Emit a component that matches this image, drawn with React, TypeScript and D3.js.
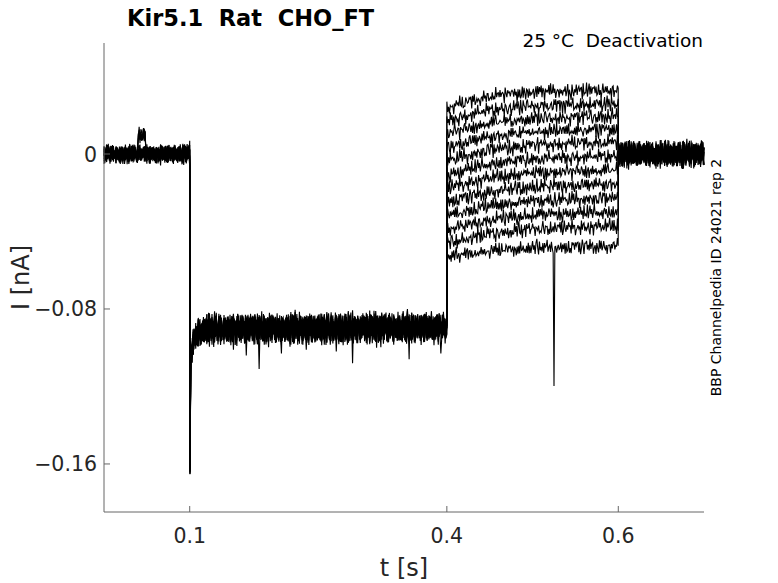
import React, { useMemo } from 'react';
import * as d3 from 'd3';

// ---- chart data ----
const xDomain = [0, 0.7];
const yDomain = [-0.1848, 0.0573];
const xTicks = [0.1, 0.4, 0.6];
const yTicks = [0, -0.08, -0.16];

const sweepCount = 12;

// holding level before the prepulse, per sweep (nA)
const holdOffsets = [0.0006, -0.0004, 0.0002, -0.0008, 0.0005, -0.0002, 0.0009, -0.0006, 0.0001, -0.0003, 0.0004, -0.0007];

// prepulse: capacitive spike then inward current
const prepulseTimes = [0.1, 0.1003, 0.1012, 0.104, 0.11, 0.12, 0.4];
const prepulseLevels = [0, -0.163, -0.106, -0.097, -0.092, -0.0905, -0.0895];
const prepulseOffsets = [0.0012, -0.0008, 0.0004, -0.0014, 0.0009, -0.0003, 0.0015, -0.0011, 0.0002, -0.0006, 0.0007, -0.0016];

// test steps, level per sweep at each of testTimes
const testTimes = [0.4, 0.45, 0.5, 0.6];
const testLevels = [
    [0.0237, 0.0299, 0.032, 0.033],
    [0.017, 0.0227, 0.0248, 0.0258],
    [0.0103, 0.016, 0.0181, 0.0196],
    [0.0036, 0.0088, 0.0114, 0.0129],
    [-0.0036, 0.0021, 0.0046, 0.0062],
    [-0.0108, -0.0052, -0.0026, -0.001],
    [-0.0175, -0.0124, -0.0098, -0.0083],
    [-0.0248, -0.0196, -0.017, -0.0155],
    [-0.032, -0.0268, -0.0243, -0.0227],
    [-0.0392, -0.0341, -0.0315, -0.0299],
    [-0.0459, -0.0413, -0.0387, -0.0372],
    [-0.0532, -0.0501, -0.0485, -0.0475],
];

// back to holding after the test step
const tailOffsets = [-0.0005, 0.0007, -0.0002, 0.0004, -0.0009, 0.0003, -0.0006, 0.0008, -0.0001, 0.0005, -0.0004, 0.0002];

// noise half-width per protocol segment
const segmentStarts = [0, 0.1, 0.4, 0.6];
const segmentNoise = [0.0052, 0.0085, 0.005, 0.0075];

// hand-read recording noise pattern
const noiseA = [0.62, -0.41, 0.15, -0.88, 0.37, 0.94, -0.23, -0.67, 0.51, -0.05, 0.79, -0.95, 0.28, -0.36, 0.7, -0.58, 0.09, 0.86, -0.74, 0.43, -0.19, -0.91, 0.66, 0.02, -0.47, 0.83, -0.3, 0.55, -0.81, 0.18, 0.97, -0.62, -0.12, 0.4, -0.99, 0.73, -0.26, 0.31, -0.69, 0.89, -0.44, 0.06, 0.59, -0.85, 0.24, -0.53, 0.77, -0.16, 0.48, -0.76, 0.92, -0.33, 0.11];
const noiseB = [-0.72, 0.35, 0.88, -0.14, -0.57, 0.63, -0.97, 0.21, 0.46, -0.38, 0.81, -0.09, -0.84, 0.57, 0.13, -0.66, 0.99, -0.27, 0.32, -0.52, 0.74, -0.9, 0.04, 0.68, -0.45, -0.18, 0.91, -0.63, 0.26, -0.79, 0.5, 0.08, -0.34, 0.85, -0.7, 0.19, -0.96, 0.42, 0.61, -0.22, -0.55, 0.77, -0.11, 0.93, -0.48, 0.3, -0.83];

// a few sweeps have a short outward blip before the prepulse
const bumpSweeps = [2, 7, 10];
const bumpStart = 0.0395;
const bumpEnd = 0.049;
const bumpLevel = 0.0098;

// single-sample artefacts: sweep, time, level
const glitches = [
    { sweep: 2, t: 0.0505, level: -0.0075 },
    { sweep: 4, t: 0.151, level: -0.101 },
    { sweep: 5, t: 0.166, level: -0.104 },
    { sweep: 8, t: 0.181, level: -0.111 },
    { sweep: 1, t: 0.207, level: -0.103 },
    { sweep: 7, t: 0.236, level: -0.101 },
    { sweep: 10, t: 0.271, level: -0.102 },
    { sweep: 3, t: 0.29, level: -0.108 },
    { sweep: 0, t: 0.318, level: -0.1 },
    { sweep: 6, t: 0.356, level: -0.106 },
    { sweep: 9, t: 0.393, level: -0.103 },
    { sweep: 11, t: 0.525, level: -0.1197 },
];

const W = 778;
const H = 583;
const margin = { left: 104, right: 74, top: 43, bottom: 71 };
const font = 'DejaVu Sans, sans-serif';
const textColor = '#262626';

function buildSweep(s: number): [number, number][] {
    const prepulse = d3.scaleLinear().domain(prepulseTimes).range(prepulseLevels);
    const test = d3.scaleLinear().domain(testTimes).range(testLevels[s]);
    const times = d3.range(0, 0.7005, 0.001).concat(prepulseTimes.slice(1, -1), [0.3999, 0.5999]);
    times.sort((a, b) => a - b);

    return times.map((t, i) => {
        const glitch = glitches.find((g) => g.sweep === s && Math.abs(g.t - t) < 0.0005);
        if (glitch) return [t, glitch.level];

        let base: number;
        if (t < 0.1) {
            base = bumpSweeps.includes(s) && t > bumpStart && t < bumpEnd ? bumpLevel : holdOffsets[s];
        } else if (t < 0.4) {
            base = prepulse(t) + (t > 0.11 ? prepulseOffsets[s] : 0);
        } else if (t < 0.6) {
            base = test(t);
        } else {
            base = tailOffsets[s];
        }
        const seg = d3.bisectRight(segmentStarts, t) - 1;
        const n = noiseA[(i + s * 7) % noiseA.length] * 0.6 + noiseB[(i * 2 + s * 5) % noiseB.length] * 0.4;
        return [t, base + n * segmentNoise[seg]];
    });
}

const App: React.FC = () => {
    const x = d3.scaleLinear().domain(xDomain).range([margin.left, W - margin.right]);
    const y = d3.scaleLinear().domain(yDomain).range([H - margin.bottom, margin.top]);

    const sweeps = useMemo(() => d3.range(sweepCount).map(buildSweep), []);
    const line = d3
        .line<[number, number]>()
        .x((d) => x(d[0]))
        .y((d) => y(d[1]));

    const fmt = d3.format('');
    const bottom = H - margin.bottom;
    const midY = (margin.top + bottom) / 2;

    return (
        <svg
            width={W}
            height={H}
            style={{ position: 'absolute', left: 0, top: 0, background: '#fff' }}
            fontFamily={font}
        >
            <rect width={W} height={H} fill="#fff" />
            <g>
                {sweeps.map((pts, s) => (
                    <path key={s} d={line(pts) || ''} fill="none" stroke="#000" strokeWidth={1.1} />
                ))}
            </g>

            {/* axes */}
            <line x1={margin.left} x2={margin.left} y1={margin.top} y2={bottom} stroke="#666" />
            <line x1={margin.left} x2={W - margin.right} y1={bottom} y2={bottom} stroke="#666" />
            {xTicks.map((t) => (
                <g key={t}>
                    <line x1={x(t)} x2={x(t)} y1={bottom} y2={bottom - 6} stroke="#666" />
                    <text x={x(t)} y={543} textAnchor="middle" fontSize={20.5} fill={textColor}>
                        {fmt(t)}
                    </text>
                </g>
            ))}
            {yTicks.map((t) => (
                <g key={t}>
                    <line x1={margin.left} x2={margin.left + 6} y1={y(t)} y2={y(t)} stroke="#666" />
                    <text x={97} y={y(t) + 7.5} textAnchor="end" fontSize={20.5} fill={textColor}>
                        {fmt(t)}
                    </text>
                </g>
            ))}

            {/* labels */}
            <text x={404} y={576} textAnchor="middle" fontSize={24} fill={textColor}>
                t [s]
            </text>
            <text
                transform={`translate(29, ${midY}) rotate(-90)`}
                textAnchor="middle"
                fontSize={24}
                fill={textColor}
            >
                I [nA]
            </text>
            <text x={127} y={26} fontSize={22.5} fontWeight="bold" fill="#000" style={{ whiteSpace: 'pre' }}>
                {'Kir5.1  Rat  CHO_FT'}
            </text>
            <text x={703} y={47} textAnchor="end" fontSize={18.5} fill="#000" style={{ whiteSpace: 'pre' }}>
                {'25 °C  Deactivation'}
            </text>
            <text
                transform={`translate(721, ${midY}) rotate(-90)`}
                textAnchor="middle"
                fontSize={14}
                fill="#000"
            >
                BBP Channelpedia ID 24021 rep 2
            </text>
        </svg>
    );
};

export default App;
